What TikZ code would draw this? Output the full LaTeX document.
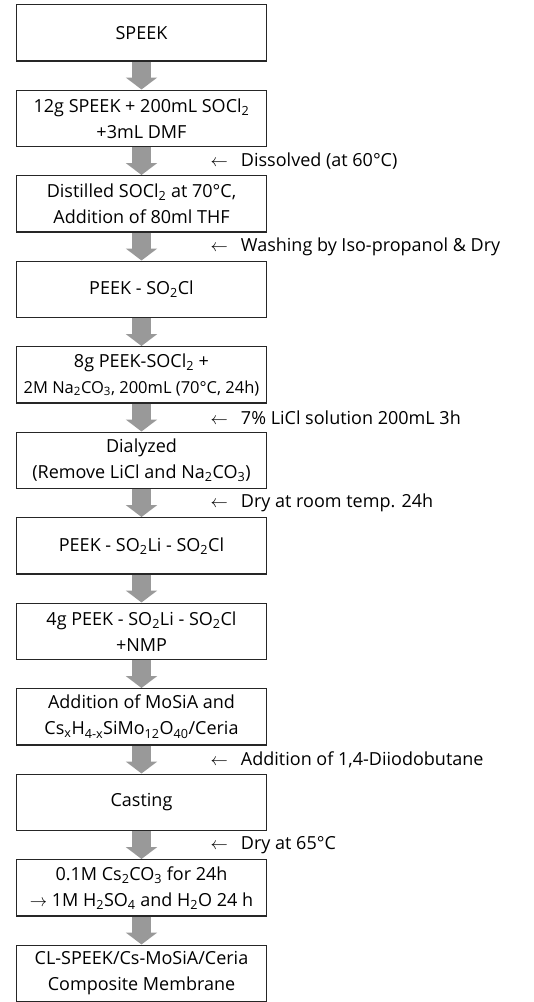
\documentclass[tikz,border=0pt]{standalone}
\usepackage{fontspec}
\setmainfont{Open Sans}
\usetikzlibrary{positioning,calc,arrows.meta}
\newcommand{\chs}[1]{\textsubscript{#1}}

\begin{document}
\begin{tikzpicture}[
      x=1pt, y=1pt,
      every node/.style={font=\fontsize{18}{26}\selectfont, inner sep=2pt},
      stepbox/.style={draw=black!85, line width=1.3pt, fill=white,
                      minimum width=249.7pt, minimum height=56.2pt,
                      align=center},
      note/.style={anchor=west, align=left, xshift=67pt},
      flow/.style={line width=19pt, draw=black!40,
                   -{Triangle[length=12pt, width=31pt]}},
  ]
    \useasboundingbox (0,0) rectangle (534,-1002);

    %% --- Process steps ---
    \node[stepbox] (speek) at (141.5,-32.75) {SPEEK};
    \node[stepbox, below=28pt of speek] (mix)
      {12g SPEEK + 200mL SOCl\chs{2}\\+3mL DMF};
    \node[stepbox, below=28pt of mix] (distil)
      {Distilled SOCl\chs{2} at 70°C,\\Addition of 80ml THF};
    \node[stepbox, below=28pt of distil] (sulfonyl) {PEEK - SO\chs{2}Cl};
    \node[stepbox, below=28pt of sulfonyl] (hydrol)
      {8g PEEK-SOCl\chs{2} +\\{\fontsize{16.5}{26}\selectfont
       2M Na\chs{2}CO\chs{3}, 200mL (70°C, 24h)}};
    \node[stepbox, below=28pt of hydrol] (dialyz)
      {Dialyzed\\(Remove LiCl and Na\chs{2}CO\chs{3})};
    \node[stepbox, below=28pt of dialyz] (lithium)
      {PEEK - SO\chs{2}Li - SO\chs{2}Cl};
    \node[stepbox, below=28pt of lithium] (solution)
      {4g PEEK - SO\chs{2}Li - SO\chs{2}Cl\\+NMP};
    \node[stepbox, below=28pt of solution] (additive)
      {Addition of MoSiA and\\Cs\chs{x}H\chs{4-x}SiMo\chs{12}O\chs{40}/Ceria};
    \node[stepbox, below=28pt of additive] (casting) {Casting};
    \node[stepbox, below=28pt of casting] (exchange)
      {0.1M Cs\chs{2}CO\chs{3} for 24h\\$\rightarrow$ 1M H\chs{2}SO\chs{4} and H\chs{2}O 24 h};
    \node[stepbox, below=28pt of exchange] (membrane)
      {CL-SPEEK/Cs-MoSiA/Ceria\\Composite Membrane};

    %% --- Flow arrows ---
    \foreach \a/\b in {speek/mix, mix/distil, distil/sulfonyl,
                       sulfonyl/hydrol, hydrol/dialyz, dialyz/lithium,
                       lithium/solution, solution/additive,
                       additive/casting, casting/exchange,
                       exchange/membrane}
      \draw[flow] (\a) -- (\b);

    %% --- Conditions beside the arrows ---
    \node[note] at ($(mix.south)!.5!(distil.north)$)
      {$\leftarrow$\hspace{13pt}Dissolved (at 60°C)};
    \node[note] at ($(distil.south)!.5!(sulfonyl.north)$)
      {$\leftarrow$\hspace{13pt}Washing by Iso-propanol \& Dry};
    \node[note] at ($(hydrol.south)!.5!(dialyz.north)$)
      {$\leftarrow$\hspace{13pt}7\% LiCl solution 200mL 3h};
    \node[note] at ($(dialyz.south)!.5!(lithium.north)$)
      {$\leftarrow$\hspace{13pt}Dry at room temp. 24h};
    \node[note] at ($(additive.south)!.5!(casting.north)$)
      {$\leftarrow$\hspace{13pt}Addition of 1,4-Diiodobutane};
    \node[note] at ($(casting.south)!.5!(exchange.north)$)
      {$\leftarrow$\hspace{13pt}Dry at 65°C};
  \end{tikzpicture}
\end{document}
